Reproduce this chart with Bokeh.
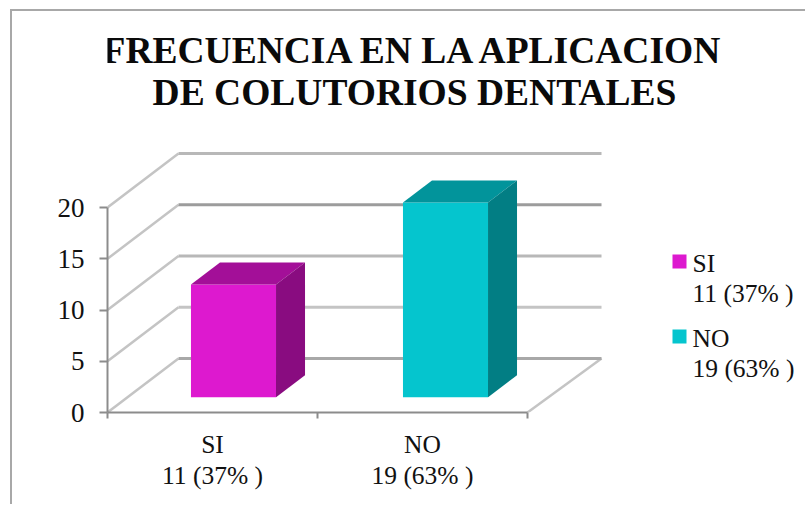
from bokeh.plotting import figure
from bokeh.embed import file_html
from bokeh.resources import INLINE
from bokeh.core.properties import value
from bokeh.models import Range1d, FixedTicker, Label, LinearAxis

categories = ["SI", "NO"]
counts = [11, 19]
shares = ["11 (37% )", "19 (63% )"]
y_ticks = [0, 5, 10, 15, 20]
title_lines = ["FRECUENCIA EN LA APLICACION", "DE COLUTORIOS DENTALES"]
front = ["#DD19CF", "#05C5CE"]
top = ["#A30F98", "#02949B"]
side = ["#890C80", "#027E84"]
back_grid = ["#a8a8a8", "#c4c4c4", "#b8b8b8", "#9c9c9c", "#b8b8b8"]

OX, OY = 12, 11             # where the canvas starts, inside the CSS border
W, H = 807 - OX, 506 - OY
LEFT, BASE = 107, 412       # picture pixels of the axis origin
PX_X, PX_Y = 210.0, 10.25   # pixels per data unit
SERIF = "Liberation Serif"
AXIS = "#8c8c8c"
INK = "#111111"
FS = "25.5px"

def xd(px):
    return (px - LEFT) / PX_X

def yd(py):
    return (BASE - py) / PX_Y

p = figure(width=W, height=H, output_backend="svg", toolbar_location=None,
           x_range=Range1d(0, xd(OX + W)), y_range=Range1d(0, yd(OY)),
           min_border_left=LEFT - OX, min_border_right=0, min_border_top=0,
           min_border_bottom=OY + H - BASE, outline_line_color=None,
           background_fill_color="white", border_fill_color="white",
           styles={"margin-left": "10px", "margin-top": "9px",
                   "border-left": "2px solid #a8a8a8",
                   "border-top": "2px solid #a8a8a8"})
p.grid.visible = False

# axes
ya = p.yaxis[0]
ya.ticker = FixedTicker(ticks=y_ticks)
ya.bounds = (0, 20)
ya.axis_line_color = AXIS
ya.axis_line_width = 2
ya.major_tick_line_color = AXIS
ya.major_tick_line_width = 2
ya.major_tick_in = 0
ya.major_tick_out = 8
ya.minor_tick_line_color = None
ya.major_label_standoff = 15
ya.major_label_text_font = SERIF
ya.major_label_text_font_size = "27px"
ya.major_label_text_color = INK

xa = p.xaxis[0]
xa.ticker = FixedTicker(ticks=[0.5, 1.5], minor_ticks=[0, 1, 2])
xa.bounds = (0, 2)
xa.axis_line_color = AXIS
xa.axis_line_width = 2
xa.major_tick_line_color = None
xa.major_tick_in = 0
xa.major_tick_out = 6
xa.minor_tick_line_color = AXIS
xa.minor_tick_line_width = 2
xa.minor_tick_in = 0
xa.minor_tick_out = 6
xa.major_label_standoff = 11
xa.major_label_overrides = {0.5: categories[0], 1.5: categories[1]}
xa.major_label_text_font = SERIF
xa.major_label_text_font_size = FS
xa.major_label_text_color = INK

# second line of each category label
xb = LinearAxis(ticker=FixedTicker(ticks=[0.5, 1.5]),
                major_label_overrides={0.5: shares[0], 1.5: shares[1]},
                axis_line_color=None, major_tick_line_color=None,
                minor_tick_line_color=None, major_tick_in=0, major_tick_out=0,
                major_label_standoff=-1, major_label_text_font=SERIF,
                major_label_text_font_size=FS, major_label_text_color=INK)
p.add_layout(xb, "below")

# 3-D walls: depth of the floor in data units
DX_L, DX_R, DY = xd(178), xd(601) - 2, yd(BASE - 54)
p.multi_line([[0, DX_L] for _ in y_ticks],
             [[v, v + DY] for v in y_ticks], line_color="#c4c4c4", line_width=2.5)
p.multi_line([[2, 2 + DX_R]], [[0, DY]], line_color="#c4c4c4", line_width=2.5)
p.multi_line([[DX_L, 2 + DX_R] for _ in y_ticks],
             [[v + DY, v + DY] for v in y_ticks], line_color=back_grid, line_width=3)

# 3-D bars
BAR_W = 0.405
BAR_STEP = 212 / PX_X
INSET_X, INSET_Y = 0.1, 1.5
DEPTH_X, DEPTH_Y = 29 / PX_X, 22 / PX_Y
lefts = [i * BAR_STEP + 0.5 + INSET_X - BAR_W / 2 for i in range(len(counts))]
rights = [l + BAR_W for l in lefts]
bottoms = [INSET_Y for _ in counts]
tops = [INSET_Y + c for c in counts]
p.quad(left=lefts, right=rights, bottom=bottoms, top=tops, fill_color=front, line_color=None)
p.patches([[l, r, r + DEPTH_X, l + DEPTH_X] for l, r in zip(lefts, rights)],
          [[t, t, t + DEPTH_Y, t + DEPTH_Y] for t in tops],
          fill_color=top, line_color=None)
p.patches([[r, r + DEPTH_X, r + DEPTH_X, r] for r in rights],
          [[b, b + DEPTH_Y, t + DEPTH_Y, t] for b, t in zip(bottoms, tops)],
          fill_color=side, line_color=None)

# title
for line, py in zip(title_lines, [50, 92]):
    p.add_layout(Label(x=xd(414), y=yd(py), text=line, text_font=SERIF,
                       text_font_style="bold", text_font_size="37.5px",
                       text_align="center", text_baseline="middle",
                       text_color="#0a0a0a"))

# legend
p.scatter(x=[xd(679), xd(679)], y=[yd(261), yd(336)], marker="square", size=14,
          fill_color=front, line_color=None)
legend_x = [xd(692)] * 4
legend_y = [yd(263), yd(293), yd(338), yd(368)]
legend_text = [categories[0], shares[0], categories[1], shares[1]]
p.text(x=legend_x, y=legend_y, text=legend_text, text_font=value(SERIF),
       text_font_size=FS, text_align="left", text_baseline="middle",
       text_color=INK)

open("out.html", "w").write(file_html(p, INLINE))
